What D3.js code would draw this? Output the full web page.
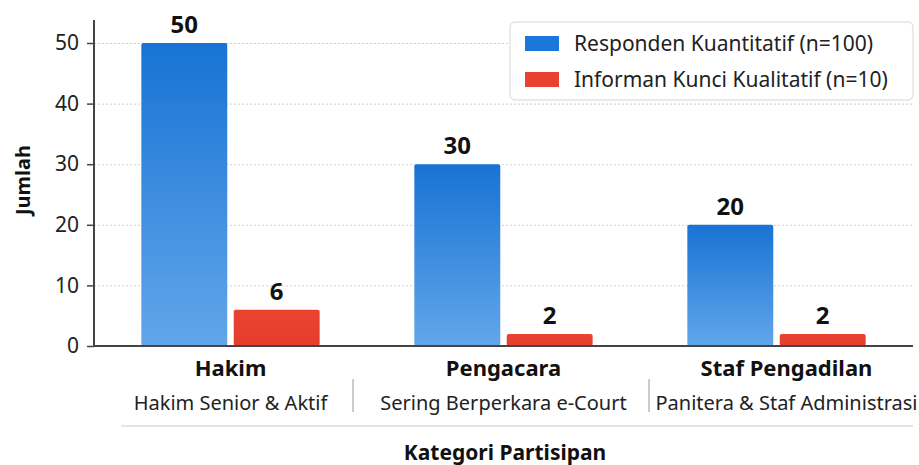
<!DOCTYPE html>
<html>
<head>
<meta charset="utf-8">
<script src="https://cdn.jsdelivr.net/npm/d3@7"></script>
<style>
  body { margin: 0; background: #fff; font-family: "Noto Sans", "Open Sans", sans-serif; }
  .grid line { stroke: #d0d0d0; stroke-dasharray: 2,2; }
  .grid .domain { display: none; }
</style>
</head>
<body>
<div class="chart"></div>
<script>
// Chart data
var categories = ["Hakim", "Pengacara", "Staf Pengadilan"];
var subLabels = ["Hakim Senior & Aktif", "Sering Berperkara e-Court", "Panitera & Staf Administrasi"];
var seriesNames = ["Responden Kuantitatif (n=100)", "Informan Kunci Kualitatif (n=10)"];
var quantValues = [50, 30, 20];
var qualValues = [6, 2, 2];
var yTicks = [0, 10, 20, 30, 40, 50];

var svgWidth = 919;
var svgHeight = 465;

var plot = { left: 94, right: 913, top: 20, bottom: 346 };
// small horizontal nudge of the category labels (last one sits a bit right)
var labelShift = [0, 0, 10];

var svg = d3.select(".chart")
  .append("svg")
  .attr("width", svgWidth)
  .attr("height", svgHeight);

// Gradients for bars
var defs = svg.append("defs");
var blueGrad = defs.append("linearGradient")
  .attr("id", "blueGrad").attr("x1", 0).attr("y1", 0).attr("x2", 0).attr("y2", 1);
blueGrad.append("stop").attr("offset", "0%").attr("stop-color", "#1873d4");
blueGrad.append("stop").attr("offset", "100%").attr("stop-color", "#62a6ea");
var redGrad = defs.append("linearGradient")
  .attr("id", "redGrad").attr("x1", 0).attr("y1", 0).attr("x2", 0).attr("y2", 1);
redGrad.append("stop").attr("offset", "0%").attr("stop-color", "#ea4330");
redGrad.append("stop").attr("offset", "100%").attr("stop-color", "#e63d2d");

var fills = ["url(#blueGrad)", "url(#redGrad)"];
var swatchColors = ["#1a78d8", "#e8412f"];

var rows = categories.map(function(c, i) {
  return { cat: c, sub: subLabels[i], vals: [quantValues[i], qualValues[i]], shift: labelShift[i] };
});

// Scales
var x0 = d3.scaleBand()
  .domain(categories)
  .range([plot.left, plot.right])
  .paddingInner(0.34)
  .paddingOuter(0.17);

var x1 = d3.scaleBand()
  .domain([0, 1])
  .range([0, x0.bandwidth()])
  .paddingInner(0.07)
  .paddingOuter(0.01);

var y = d3.scaleLinear()
  .domain([0, 50])
  .range([plot.bottom, 43]);

// Gridlines
svg.append("g")
  .attr("class", "grid")
  .attr("transform", `translate(${plot.left}, 0)`)
  .call(d3.axisLeft(y).tickValues(yTicks.slice(1)).tickSize(-(plot.right - plot.left)).tickFormat(""));

// Bars
var groups = svg.selectAll(".group")
  .data(rows)
  .enter()
  .append("g")
  .attr("class", "group")
  .attr("transform", d => `translate(${x0(d.cat)}, 0)`);

groups.selectAll("rect")
  .data(d => d.vals.map((v, k) => ({ k: k, v: v })))
  .enter()
  .append("rect")
  .attr("x", d => x1(d.k))
  .attr("y", d => y(d.v))
  .attr("width", x1.bandwidth())
  .attr("height", d => y(0) - y(d.v))
  .attr("rx", 2)
  .attr("fill", d => fills[d.k]);

// Value labels
groups.selectAll(".val")
  .data(d => d.vals.map((v, k) => ({ k: k, v: v })))
  .enter()
  .append("text")
  .attr("class", "val")
  .attr("x", d => x1(d.k) + x1.bandwidth() / 2)
  .attr("y", d => y(d.v) - 10)
  .attr("text-anchor", "middle")
  .style("font-size", "24px")
  .style("font-weight", "bold")
  .style("fill", "#111")
  .text(d => d.v);

// Y axis
var yAxis = svg.append("g")
  .attr("transform", `translate(${plot.left}, 0)`)
  .call(d3.axisLeft(y).tickValues(yTicks).tickSize(7).tickPadding(8));
yAxis.select(".domain").attr("d", `M0,${plot.top}V${plot.bottom}`).attr("stroke", "#444").attr("stroke-width", 2);
yAxis.selectAll(".tick line").attr("stroke", "#444").attr("stroke-width", 1.5);
yAxis.selectAll(".tick text")
  .style("font-size", "21px")
  .style("fill", "#222")
  .style("font-family", "'Noto Sans', sans-serif");

// X axis line
svg.append("line")
  .attr("x1", plot.left).attr("x2", plot.right)
  .attr("y1", plot.bottom).attr("y2", plot.bottom)
  .attr("stroke", "#444").attr("stroke-width", 2);

// Category labels
var catLabels = svg.selectAll(".cat")
  .data(rows)
  .enter();

catLabels.append("text")
  .attr("x", d => x0(d.cat) + x0.bandwidth() / 2 + d.shift)
  .attr("y", 376)
  .attr("text-anchor", "middle")
  .style("font-size", "22px")
  .style("font-weight", "bold")
  .style("fill", "#111")
  .text(d => d.cat);

catLabels.append("text")
  .attr("x", d => x0(d.cat) + x0.bandwidth() / 2 + d.shift)
  .attr("y", 410)
  .attr("text-anchor", "middle")
  .style("font-size", "20px")
  .style("fill", "#222")
  .text(d => d.sub);

// Separators between sub labels
var sepX = [353, 649];
svg.selectAll(".sep")
  .data(sepX)
  .enter()
  .append("line")
  .attr("x1", d => d)
  .attr("x2", d => d)
  .attr("y1", 379).attr("y2", 412)
  .attr("stroke", "#bbb").attr("stroke-width", 1.5);

svg.append("line")
  .attr("x1", 121).attr("x2", plot.right)
  .attr("y1", 426).attr("y2", 426)
  .attr("stroke", "#ddd").attr("stroke-width", 1.5);

// Axis titles
svg.append("text")
  .attr("transform", "rotate(-90)")
  .attr("x", -180)
  .attr("y", 30)
  .attr("text-anchor", "middle")
  .style("font-size", "20px")
  .style("font-weight", "bold")
  .style("fill", "#111")
  .text("Jumlah");

svg.append("text")
  .attr("x", 505)
  .attr("y", 460)
  .attr("text-anchor", "middle")
  .style("font-size", "21px")
  .style("font-weight", "bold")
  .style("fill", "#111")
  .text("Kategori Partisipan");

// Legend
var legend = svg.append("g").attr("transform", "translate(510, 22)");
legend.append("rect")
  .attr("width", 403).attr("height", 78)
  .attr("rx", 5)
  .attr("fill", "#fff")
  .attr("stroke", "#d6d6d6");

var legendItems = legend.selectAll(".item")
  .data(seriesNames)
  .enter()
  .append("g")
  .attr("transform", (d, i) => `translate(15, ${22 + i * 36})`);

legendItems.append("rect")
  .attr("y", -8)
  .attr("width", 34).attr("height", 15)
  .attr("fill", (d, i) => swatchColors[i]);

legendItems.append("text")
  .attr("x", 49)
  .attr("y", 0)
  .attr("dy", "0.35em")
  .style("font-size", "21px")
  .style("fill", "#222")
  .text(d => d);
</script>
</body>
</html>
